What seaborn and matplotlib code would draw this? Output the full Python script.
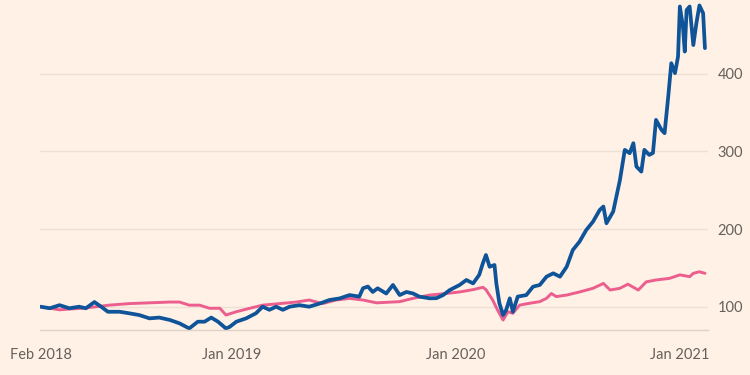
import matplotlib
matplotlib.use("Agg")
import matplotlib.pyplot as plt
import seaborn as sns
import pandas as pd

# ---- data (rebased to 100) ----
blue_dates = ["2018-02-22","2018-03-09","2018-03-25","2018-04-10","2018-04-26","2018-05-07","2018-05-21","2018-06-01","2018-06-12","2018-07-01",
              "2018-07-17","2018-08-02","2018-08-19","2018-09-04","2018-09-21","2018-10-07","2018-10-23","2018-11-06","2018-11-17","2018-11-28",
              "2018-12-09","2018-12-22","2018-12-28",
              "2019-01-08","2019-01-24","2019-02-09","2019-02-20","2019-03-03","2019-03-14","2019-03-25",
              "2019-04-05","2019-04-21","2019-05-07","2019-05-24","2019-06-09","2019-06-26","2019-07-12","2019-07-28","2019-08-03","2019-08-11",
              "2019-08-19","2019-08-27","2019-09-10","2019-09-21","2019-10-02","2019-10-13","2019-10-24","2019-11-03","2019-11-20","2019-12-01",
              "2019-12-12","2019-12-23",
              "2020-01-08","2020-01-19","2020-01-30","2020-02-09","2020-02-15","2020-02-20","2020-02-26","2020-03-05",
              "2020-03-08","2020-03-13","2020-03-19","2020-03-24","2020-03-30","2020-04-04","2020-04-12","2020-04-26","2020-05-07","2020-05-18",
              "2020-05-29","2020-06-09","2020-06-20","2020-07-01","2020-07-11","2020-07-22","2020-08-02","2020-08-13","2020-08-24","2020-08-30",
              "2020-09-04","2020-09-15","2020-09-26","2020-10-04","2020-10-12","2020-10-18","2020-10-23","2020-10-31","2020-11-05","2020-11-13",
              "2020-11-19","2020-11-24","2020-12-03","2020-12-08","2020-12-14","2020-12-19","2020-12-25","2020-12-30",
              "2021-01-02","2021-01-07","2021-01-10","2021-01-13","2021-01-18","2021-01-24","2021-01-29","2021-02-03","2021-02-09","2021-02-12"]
blue_values = [100, 98, 102, 98, 100, 98, 106, 100, 93.5, 93.5,
               91.5, 89.3, 85, 86, 83, 78.6, 72, 80.7, 80.7, 86,
               80.7, 72, 74,
               80.7, 85, 91.5, 100, 96, 100, 96,
               100, 102, 100, 104, 108.6, 110.7, 115, 113, 123.7, 126,
               119, 123.7, 117, 128, 115, 119, 117, 113, 110.8, 111,
               115, 121.5,
               128, 134.4, 130, 141, 156, 166.6, 151.5, 153.7,
               130, 104.4, 89.3, 95.7, 110.8, 93.5, 113, 115, 125.8, 128,
               138.7, 143, 138.7, 151.5, 173, 183.8, 198.8, 209.5, 224.6, 229,
               207.5, 222.5, 263, 302, 297.7, 310.6, 280.5, 274, 302, 295.5,
               298, 340.6, 327.7, 323.5, 370.6, 413.6, 400.8, 422,
               486.6, 460.8, 428.6, 482, 486.6, 437, 465, 488, 478, 433]

pink_dates = ["2018-02-22","2018-03-25","2018-04-10","2018-05-02","2018-05-24","2018-06-14","2018-07-17","2018-08-19","2018-09-21","2018-10-07",
              "2018-10-23","2018-11-09","2018-11-25","2018-12-12","2018-12-22",
              "2019-01-08","2019-01-30","2019-02-20","2019-03-20","2019-04-16",
              "2019-05-07","2019-05-29","2019-06-20","2019-07-12","2019-08-03","2019-08-25","2019-10-02","2019-10-24","2019-11-20","2019-12-17",
              "2020-01-08","2020-01-30","2020-02-15","2020-02-20","2020-03-02","2020-03-10","2020-03-19","2020-03-27","2020-04-04","2020-04-15",
              "2020-05-01","2020-05-18","2020-05-29","2020-06-06","2020-06-14","2020-07-01","2020-07-22","2020-08-13","2020-08-30","2020-09-10",
              "2020-09-26","2020-10-09","2020-10-26","2020-11-08","2020-11-24","2020-12-16",
              "2021-01-02","2021-01-18","2021-01-24","2021-02-03","2021-02-12"]
pink_values = [100, 96, 97, 98, 100, 102, 104, 105, 106, 106,
               102, 102, 98, 98, 89.3,
               93.5, 98, 102, 104, 106,
               108.6, 104, 108.6, 110.7, 108.6, 105, 106.5, 110.8, 115, 117,
               119, 122, 125, 122, 108.6, 95.7, 82.8, 93.5, 91.5, 102,
               104.4, 106.5, 110.8, 117, 113, 115, 119, 123.7, 130, 121.5,
               123.7, 129, 121.5, 132, 134.4, 136.5,
               141, 138.7, 143, 145, 143]

tick_dates = ["2018-02-22", "2019-01-01", "2020-01-01", "2021-01-01", "2021-02-12"]
tick_labels = ["Feb 2018", "Jan 2019", "Jan 2020", "Jan 2021", ""]
y_ticks = [100, 200, 300, 400]

BG = "#FFF1E5"
BLUE = "#0F5499"
PINK = "#EB5E8D"
TEXT = "#66605C"
GRID = "#EDE0D5"
AXIS = "#E0D2C6"

blue_df = pd.DataFrame({"date": pd.to_datetime(blue_dates), "value": blue_values})
pink_df = pd.DataFrame({"date": pd.to_datetime(pink_dates), "value": pink_values})

sns.set_style("white")
plt.rcParams["font.family"] = ["Lato", "DejaVu Sans"]

fig, ax = plt.subplots(figsize=(7.5, 3.75), dpi=100)
fig.patch.set_facecolor(BG)
ax.set_facecolor(BG)
fig.subplots_adjust(left=0.0533, right=0.944, bottom=0.12, top=1.0)

sns.lineplot(data=pink_df, x="date", y="value", ax=ax, color=PINK, linewidth=2.1)
sns.lineplot(data=blue_df, x="date", y="value", ax=ax, color=BLUE, linewidth=2.7)

ax.set_xlim(pd.Timestamp("2018-02-21"), pd.Timestamp("2021-02-17"))
ax.set_ylim(70, 495)

ax.set_xticks(pd.to_datetime(tick_dates))
ax.set_xticklabels(tick_labels)
ax.set_yticks(y_ticks)
ax.set_yticklabels([str(v) for v in y_ticks])
ax.yaxis.tick_right()

ax.set_xlabel("")
ax.set_ylabel("")

ax.yaxis.grid(True, color=GRID, linewidth=1)
ax.xaxis.grid(False)
ax.set_axisbelow(True)

for s in ["top", "left", "right"]:
    ax.spines[s].set_visible(False)
ax.spines["bottom"].set_color(AXIS)
ax.spines["bottom"].set_linewidth(1)

ax.tick_params(axis="x", length=9, width=1, color=AXIS, pad=4,
               labelsize=10.5, labelcolor=TEXT, direction="out")
ax.tick_params(axis="y", length=0, pad=7, labelsize=10.5, labelcolor=TEXT)

fig.savefig("out.png", dpi=100, facecolor=BG)
